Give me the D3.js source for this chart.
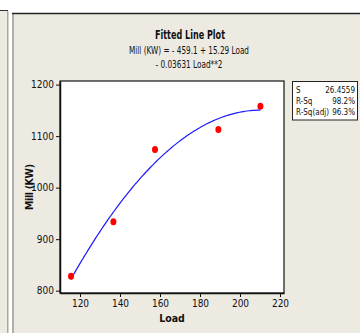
<!DOCTYPE html>
<html><head><meta charset="utf-8">
<script src="https://cdn.jsdelivr.net/npm/d3@7"></script>
<style>
html,body{margin:0;padding:0;background:#fff;}
svg{display:block;}
text{font-family:"Liberation Sans Narrow","DejaVu Sans Condensed","Arial Narrow",sans-serif;fill:#111;}
</style></head>
<body>
<svg id="chart" width="360" height="333"></svg>
<script>
// Data
const loads = [115.5, 136.7, 157.5, 189.2, 210.2];
const mill = [828, 934, 1074, 1113, 1158];
// Fitted quadratic coefficients as printed in the chart: Mill = c0 + c1*Load + c2*Load^2
const fitCoefs = [-459.1, 15.29, -0.03631];
const xTicks = [120, 140, 160, 180, 200, 220];
const yTicks = [800, 900, 1000, 1100, 1200];
const statLabels = ["S", "R-Sq", "R-Sq(adj)"];
const statValues = ["26.4559", "98.2%", "96.3%"];
const titleText = "Fitted Line Plot";
const subLines = ["Mill (KW) = - 459.1 + 15.29 Load", "- 0.03631 Load**2"];

const svg = d3.select("#chart");
const bg = "#EDEAE1";

// page frame pieces
svg.append("rect").attr("x",0).attr("y",10).attr("width",8).attr("height",323).attr("fill",bg);
svg.append("line").attr("x1",0).attr("x2",8).attr("y1",10.5).attr("y2",10.5).attr("stroke","#333").attr("stroke-width",1);
svg.append("rect").attr("x",7).attr("y",11).attr("width",1.5).attr("height",322).attr("fill","#a9a6a2");
svg.append("rect").attr("x",12).attr("y",13).attr("width",348).attr("height",320).attr("fill",bg);
svg.append("rect").attr("x",12).attr("y",13).attr("width",2).attr("height",320).attr("fill","#b2afaa");
svg.append("line").attr("x1",12).attr("x2",360).attr("y1",13.5).attr("y2",13.5).attr("stroke","#222").attr("stroke-width",1.5);

const L = 60, R = 284, T = 81, B = 293;
const x = d3.scaleLinear().domain([110, 222]).range([L, R]);
const y = d3.scaleLinear().domain([795.5, 1207]).range([B, T]);

svg.append("rect").attr("x",L).attr("y",T).attr("width",R-L).attr("height",B-T)
  .attr("fill","#fff").attr("stroke","#111").attr("stroke-width",1.2);

// axes
const gx = svg.append("g").attr("transform",`translate(0,${B})`)
  .call(d3.axisBottom(x).tickValues(xTicks).tickSize(4).tickSizeOuter(0).tickPadding(2).tickFormat(d3.format("d")));
const gy = svg.append("g").attr("transform",`translate(${L},0)`)
  .call(d3.axisLeft(y).tickValues(yTicks).tickSize(4).tickSizeOuter(0).tickPadding(2).tickFormat(d3.format("d")));
[gx, gy].forEach(g=>{
  g.select(".domain").attr("stroke","#111").attr("stroke-width",1.5);
  g.selectAll(".tick line").attr("stroke","#111");
  g.selectAll(".tick text").attr("font-size",10).attr("fill","#111")
   .style("font-family",'"Liberation Sans Narrow","DejaVu Sans Condensed",sans-serif');
});
gx.selectAll(".tick text").attr("dy","0.75em");

// fitted curve
const xmin = d3.min(loads), xmax = d3.max(loads);
const curvePts = d3.range(0, 101).map(i=>{
  const lv = xmin + (xmax - xmin) * i / 100;
  return [lv, fitCoefs[0] + fitCoefs[1]*lv + fitCoefs[2]*lv*lv];
});
svg.append("path").datum(curvePts)
  .attr("d", d3.line().x(d=>x(d[0])).y(d=>y(d[1])))
  .attr("fill","none").attr("stroke","#1a1aff").attr("stroke-width",1.2);

// points
svg.append("g").selectAll("ellipse").data(loads).join("ellipse")
  .attr("cx",(d)=>x(d)).attr("cy",(d,i)=>y(mill[i]))
  .attr("rx",3).attr("ry",3.5).attr("fill","#ff0000");

// titles
svg.append("text").attr("x",190).attr("y",39).attr("text-anchor","middle")
  .attr("font-size",12.5).attr("font-weight","bold").attr("textLength",70).attr("lengthAdjust","spacingAndGlyphs")
  .text(titleText);
const subW = [120, 67];
const subY = [54, 68];
subLines.forEach((s,i)=>{
  svg.append("text").attr("x",189).attr("y",subY[i]).attr("text-anchor","middle")
    .attr("font-size",10.5).attr("textLength",subW[i]).attr("lengthAdjust","spacingAndGlyphs").text(s);
});

// axis titles
svg.append("text").attr("x",172).attr("y",322).attr("text-anchor","middle")
  .attr("font-size",10.5).attr("font-weight","bold").text("Load");
svg.append("text").attr("transform","translate(32.5,187) rotate(-90)").attr("text-anchor","middle")
  .attr("font-size",10.5).attr("font-weight","bold").attr("textLength",46).attr("lengthAdjust","spacing").text("Mill (KW)");

// stats box
svg.append("rect").attr("x",292.5).attr("y",81.5).attr("width",65).attr("height",38.5)
  .attr("fill","#fff").attr("stroke","#222").attr("stroke-width",1);
const statY = [93, 104, 115];
statLabels.forEach((s,i)=>{
  svg.append("text").attr("x",296).attr("y",statY[i]).attr("font-size",8).text(s);
  svg.append("text").attr("x",355).attr("y",statY[i]).attr("font-size",8).attr("text-anchor","end").text(statValues[i]);
});
</script>
</body></html>
